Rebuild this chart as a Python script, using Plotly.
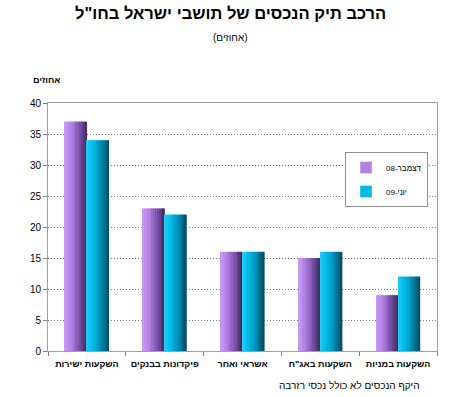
import plotly.graph_objects as go

categories = ["השקעות ישירות", "פיקדונות בבנקים", "אשראי ואחר", "השקעות באג\"ח", "השקעות במניות"]
series_names = ["דצמבר-08", "יוני-09"]
dec08 = [37, 23, 16, 15, 9]
jun09 = [34, 22, 16, 16, 12]
y_ticks = [0, 5, 10, 15, 20, 25, 30, 35, 40]

FONT = "Liberation Sans, Arial, DejaVu Sans, sans-serif"

# gradient stops (left -> right) for the cylinder-like bars
grad = {
    0: [(0.0, (200, 155, 245)), (0.3, (180, 130, 230)), (0.65, (125, 85, 175)), (1.0, (65, 40, 90))],
    1: [(0.0, (40, 205, 245)), (0.3, (0, 188, 230)), (0.65, (0, 140, 180)), (1.0, (0, 75, 100))],
}
legend_col = {0: "rgb(176,128,228)", 1: "rgb(0,184,228)"}


def interp(stops, t):
    for (t0, c0), (t1, c1) in zip(stops, stops[1:]):
        if t0 <= t <= t1:
            f = (t - t0) / (t1 - t0) if t1 > t0 else 0
            return "rgb(%d,%d,%d)" % tuple(round(a + (b - a) * f) for a, b in zip(c0, c1))
    return "rgb(%d,%d,%d)" % stops[-1][1]


fig = go.Figure()
bar_w = 0.282
n = 12
for si, (name, vals) in enumerate(zip(series_names, [dec08, jun09])):
    start = -bar_w + si * bar_w
    for i in range(n):
        t = (i + 0.5) / n
        fig.add_trace(go.Bar(
            x=categories, y=vals, name=name,
            width=bar_w / n + 0.002, offset=start + i * bar_w / n,
            marker=dict(color=interp(grad[si], t), line=dict(width=0)),
            showlegend=False, legendgroup=name, hoverinfo="skip",
        ))
    # legend-only entry
    fig.add_trace(go.Bar(
        x=[categories[0]], y=[None], name=name, legendgroup=name,
        marker=dict(color=legend_col[si]), showlegend=True,
    ))

W, H = 470, 397
l, r, t, b = 48, 33, 103, 46
pw, ph = W - l - r, H - t - b

fig.update_layout(
    width=W, height=H,
    margin=dict(l=l, r=r, t=t, b=b),
    barmode="overlay",
    paper_bgcolor="white", plot_bgcolor="white",
    font=dict(family=FONT, size=10, color="black"),
    showlegend=True,
    legend=dict(
        x=(345 - l) / pw, y=(H - b - 152) / ph, xanchor="left", yanchor="top",
        bgcolor="white", bordercolor="#909090", borderwidth=1,
        font=dict(size=8, family=FONT), tracegroupgap=5,
        itemwidth=30,
    ),
    xaxis=dict(
        type="category", showline=True, linecolor="#a0a0a0", linewidth=1, mirror=True,
        ticks="outside", tickson="boundaries", ticklen=4, tickcolor="#808080",
        tickfont=dict(size=9, weight="bold", family=FONT), showgrid=False,
        ticklabelstandoff=4,
    ),
    yaxis=dict(
        range=[0, 40], tickvals=y_ticks, showline=True, linecolor="#a0a0a0", linewidth=1,
        mirror=True, ticks="outside", ticklen=4, tickcolor="#808080",
        showgrid=True, gridcolor="#808080", griddash="1px,2px", gridwidth=1,
        tickfont=dict(size=10, family=FONT), zeroline=False,
    ),
)

ann_specs = [
    ("<b>הרכב תיק הנכסים של תושבי ישראל בחו\"ל</b>", 230, 13, "center", 16.5),
    ("(אחוזים)", 230, 37, "center", 10),
    ("<b>אחוזים</b>", 46, 80, "center", 9),
    ("היקף הנכסים לא כולל נכסי רזרבה", 422, 385, "right", 10),
]
for text, px, py, anchor, size in ann_specs:
    fig.add_annotation(
        text=text, x=(px - l) / pw, y=(H - b - py) / ph, xref="paper", yref="paper",
        xanchor=anchor, yanchor="middle", showarrow=False, font=dict(size=size),
    )

fig.write_html("out.html", config={"displayModeBar": False},
               post_script="document.body.style.margin='0px';")
